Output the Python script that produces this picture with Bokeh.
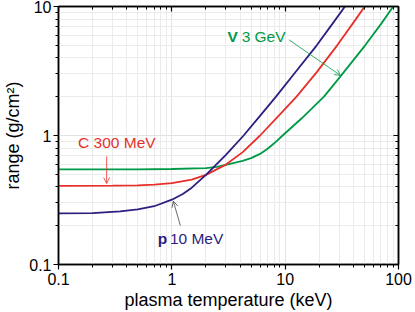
from bokeh.plotting import figure
from bokeh.models import LogAxis, FixedTicker, CustomJSTickFormatter, Label, Arrow, OpenHead
from bokeh.embed import file_html
from bokeh.resources import INLINE

# ---- data ----
temp_p = [0.1, 0.2, 0.35, 0.5, 0.7, 1.0, 1.25, 1.5, 2.0, 3.0, 4.3, 6.0, 8.3, 12.5, 19.0, 26.0, 33.7]
range_p = [0.249, 0.250, 0.258, 0.267, 0.283, 0.318, 0.352, 0.394, 0.495, 0.708, 1.0, 1.42, 2.0, 3.15, 5.0, 7.3, 10.0]

temp_c = [0.1, 0.3, 0.5, 0.7, 1.0, 1.5, 2.0, 3.0, 4.2, 6.0, 8.5, 12.6, 19.0, 28.8, 40.0, 50.4]
range_c = [0.407, 0.408, 0.411, 0.416, 0.427, 0.455, 0.495, 0.595, 0.74, 1.0, 1.38, 2.0, 3.1, 5.0, 7.5, 10.0]

temp_v = [0.1, 0.5, 1.0, 2.0, 2.5, 3.0, 4.2, 5.0, 6.0, 7.0, 8.0, 9.5, 14.0, 22.0, 30.5, 50.8, 70.0, 89.8]
range_v = [0.546, 0.547, 0.55, 0.558, 0.572, 0.592, 0.635, 0.668, 0.72, 0.79, 0.87, 1.0, 1.36, 2.0, 2.85, 5.0, 7.3, 10.0]

x_major = [0.1, 1, 10, 100]
x_minor = [0.2, 0.3, 0.4, 0.5, 0.6, 0.7, 0.8, 0.9, 2, 3, 4, 5, 6, 7, 8, 9, 20, 30, 40, 50, 60, 70, 80, 90]
y_major = [0.1, 1, 10]
y_minor = [0.2, 0.3, 0.4, 0.5, 0.6, 0.7, 0.8, 0.9, 2, 3, 4, 5, 6, 7, 8, 9]

BLUE = "#2b1f7f"
RED = "#e8302a"
GREEN = "#009a46"
FONT = "Liberation Sans"

p = figure(width=415, height=312, x_axis_type="log", y_axis_type="log",
           x_range=(0.1, 100), y_range=(0.1, 10),
           output_backend="svg", toolbar_location=None,
           min_border_left=54, min_border_right=17, min_border_top=6, min_border_bottom=48)
p.background_fill_color = "white"
p.border_fill_color = "white"
p.outline_line_color = "black"
p.outline_line_width = 1.5

xt = FixedTicker(ticks=x_major, minor_ticks=x_minor)
yt = FixedTicker(ticks=y_major, minor_ticks=y_minor)
fmt = CustomJSTickFormatter(code="return String(tick);")
blank = CustomJSTickFormatter(code="return '';")

for ax, t in ((p.xaxis[0], xt), (p.yaxis[0], yt)):
    ax.ticker = t
    ax.formatter = fmt
    ax.major_tick_out = 5
    ax.major_tick_in = 0
    ax.minor_tick_out = 3
    ax.minor_tick_in = 0
    ax.axis_line_width = 1.5
    ax.major_tick_line_width = 1.2
    ax.major_label_text_font = FONT
    ax.major_label_text_font_size = "16px"
    ax.major_label_text_color = "black"
    ax.axis_label_text_font = FONT
    ax.axis_label_text_font_size = "18px"
    ax.axis_label_text_font_style = "normal"
    ax.axis_label_text_color = "black"

p.xaxis[0].axis_label = "plasma temperature (keV)"
p.xaxis[0].major_label_standoff = 3
p.xaxis[0].axis_label_standoff = 2
p.yaxis[0].axis_label = "range (g/cm²)"
p.yaxis[0].major_label_standoff = 2
p.yaxis[0].axis_label_standoff = 3

for loc, t in (("above", xt), ("right", yt)):
    ax = LogAxis(ticker=t, formatter=blank, major_tick_in=5, major_tick_out=0,
                 minor_tick_in=3, minor_tick_out=0, major_label_standoff=0,
                 major_label_text_font_size="0px", axis_line_width=1.5,
                 major_tick_line_width=1.2)
    p.add_layout(ax, loc)

p.xgrid.ticker = xt
p.ygrid.ticker = yt
for g in (p.xgrid, p.ygrid):
    g.grid_line_color = "#e2e2e2"
    g.minor_grid_line_color = "#ebebeb"

p.line(temp_v, range_v, line_color=GREEN, line_width=1.8)
p.line(temp_c, range_c, line_color=RED, line_width=1.8)
p.line(temp_p, range_p, line_color=BLUE, line_width=1.8)

# annotations
p.add_layout(Label(x=0.327, y=0.878, text="C 300 MeV", text_align="center", text_baseline="middle",
                   text_font=FONT, text_font_size="15.5px", text_color=RED))
p.add_layout(Arrow(x_start=0.266, y_start=0.69, x_end=0.266, y_end=0.425,
                   line_color=RED, line_width=0.8,
                   end=OpenHead(size=6, line_color=RED, line_width=0.8)))

p.add_layout(Label(x=3.10, y=5.85, text="V", text_align="left", text_baseline="middle",
                   text_font=FONT, text_font_size="15.5px", text_font_style="bold", text_color=GREEN))
p.add_layout(Label(x=4.13, y=5.85, text="3 GeV", text_align="left", text_baseline="middle",
                   text_font=FONT, text_font_size="15.5px", text_color=GREEN))
p.add_layout(Arrow(x_start=10.8, y_start=5.52, x_end=30.8, y_end=2.92,
                   line_color=GREEN, line_width=0.8,
                   end=OpenHead(size=6, line_color=GREEN, line_width=0.8)))

p.add_layout(Label(x=0.75, y=0.158, text="p", text_align="left", text_baseline="middle",
                   text_font=FONT, text_font_size="15.5px", text_font_style="bold", text_color=BLUE))
p.add_layout(Label(x=0.961, y=0.158, text="10 MeV", text_align="left", text_baseline="middle",
                   text_font=FONT, text_font_size="15.5px", text_color=BLUE))
p.add_layout(Arrow(x_start=1.19, y_start=0.20, x_end=1.03, y_end=0.31,
                   line_color="#444444", line_width=0.8,
                   end=OpenHead(size=6, line_color="#444444", line_width=0.8)))

open("out.html", "w").write(file_html(p, INLINE))
